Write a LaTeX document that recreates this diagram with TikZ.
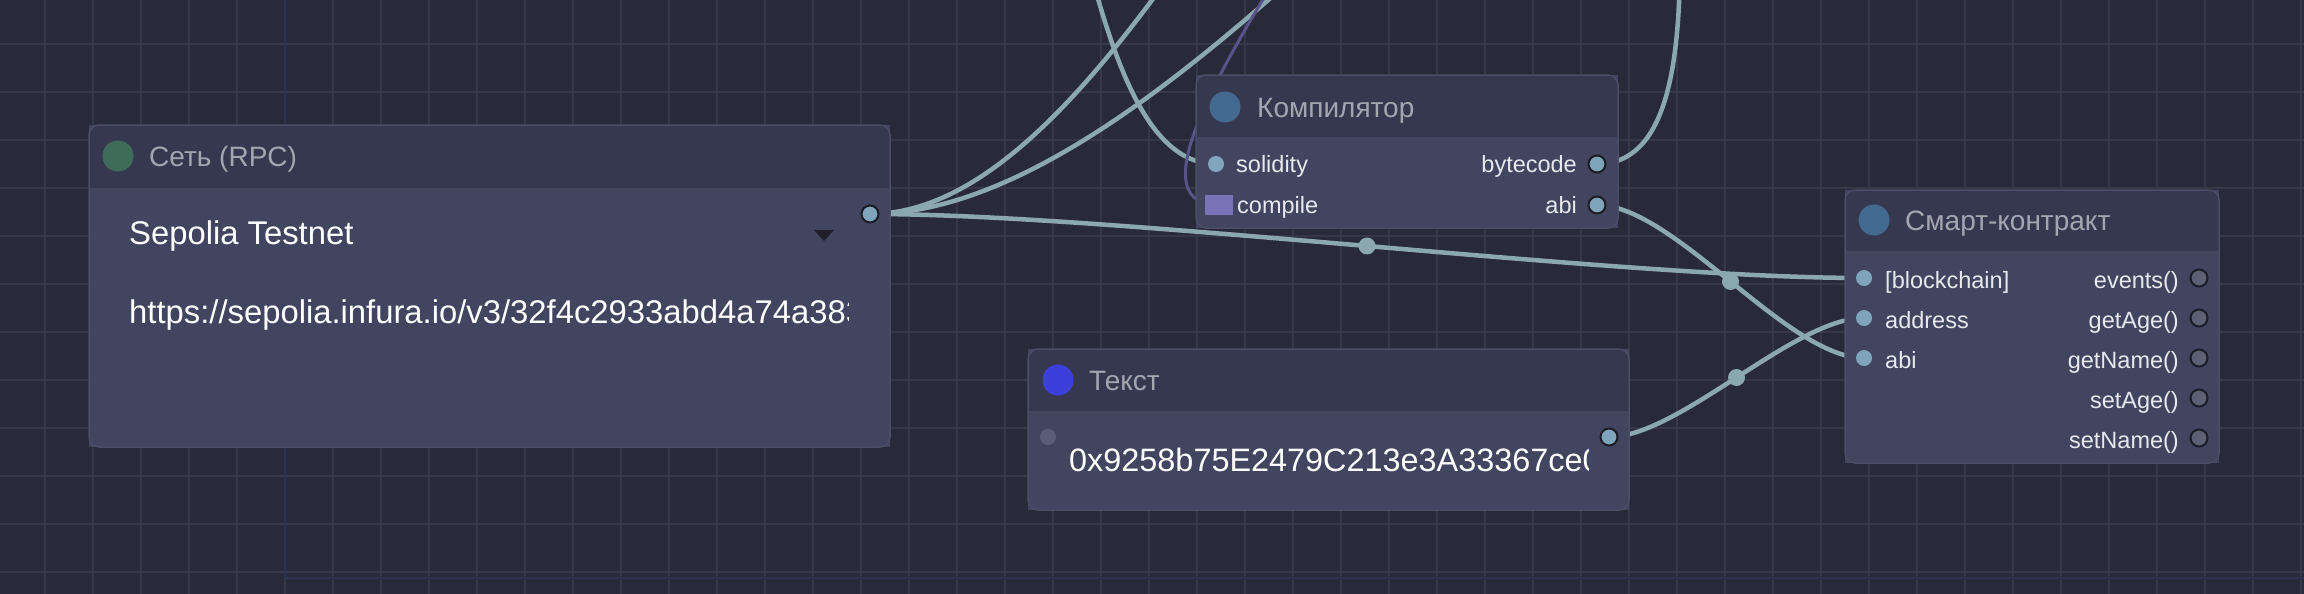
\documentclass[tikz,border=0pt]{standalone}
\usepackage{fontspec}
\setmainfont{Liberation Sans}
\pgfdeclarelayer{back}
\pgfdeclarelayer{wires}
\pgfsetlayers{back,wires,main}
\definecolor{bgc}{HTML}{282A3A}
\definecolor{gridc}{HTML}{363848}
\definecolor{bluec}{HTML}{2C3352}
\definecolor{headc}{HTML}{36384F}
\definecolor{bodyc}{HTML}{424560}
\definecolor{borderc}{HTML}{4B4E66}
\definecolor{titlec}{HTML}{A3A5B1}
\definecolor{labelc}{HTML}{E8E8EE}
\definecolor{linkc}{HTML}{8BA7B0}
\definecolor{purplec}{HTML}{58548A}
\definecolor{squarec}{HTML}{7A72B6}
\definecolor{portc}{HTML}{7EA5BB}
\definecolor{portoff}{HTML}{5E6075}
\definecolor{portdim}{HTML}{5A5D77}
\definecolor{portring}{HTML}{1B1C25}
\definecolor{greenc}{HTML}{3F6B5B}
\definecolor{steelc}{HTML}{436990}
\definecolor{bluedot}{HTML}{3D3FDA}
\definecolor{darktri}{HTML}{1E1F2B}
\begin{document}
\begin{tikzpicture}[x=1pt,y=-1pt,
  gridline/.style={gridc,line width=2},
  nodebox/.style={fill=bodyc,inner sep=0,outer sep=0,anchor=north west},
  hdot/.style={circle,inner sep=0,minimum size=31},
  inport/.style={circle,fill=portc,inner sep=0,minimum size=16},
  outport/.style={circle,fill=portc,draw=portring,line width=2,inner sep=0,minimum size=17},
  offport/.style={circle,fill=portoff,draw=portring,line width=2,inner sep=0,minimum size=17},
  titletext/.style={anchor=base west,inner sep=0,text=titlec,font=\fontsize{28}{32}\selectfont},
  plabelL/.style={anchor=base west,inner sep=0,text=labelc,font=\fontsize{23.5}{28}\selectfont},
  plabelR/.style={anchor=base east,inner sep=0,text=labelc,font=\fontsize{23.5}{28}\selectfont},
  widget/.style={anchor=base west,inner sep=0,text=white,font=\fontsize{32.8}{38}\selectfont},
  link/.style={linkc,line width=4.5,line cap=round},
  plink/.style={purplec,line width=3,line cap=round},
  middot/.style={circle,fill=linkc,inner sep=0,minimum size=17}
]
\useasboundingbox (0,0) rectangle (2304,594);
\begin{pgfonlayer}{back}
  \fill[bgc] (0,0) rectangle (2304,594);
  \foreach \i in {0,...,47} \draw[gridline] ({45+48*\i},0) -- ({45+48*\i},594);
  \foreach \j in {0,...,11} \draw[gridline] (0,{44+48*\j}) -- (2304,{44+48*\j});
  \draw[bluec,line width=2] (285,0) -- (285,578) -- (2304,578);
\end{pgfonlayer}

% ---------- node: Сеть (RPC)
\node[nodebox,minimum width=801,minimum height=322] (rpc) at (89,125) {};
\begin{scope}
  \clip[rounded corners=10] (89,125) rectangle (890,447);
  \fill[bodyc] (89,125) rectangle (890,447);
  \fill[headc] (89,125) rectangle (890,188);
\end{scope}
\draw[borderc,line width=1.5,rounded corners=10] (89,125) rectangle (890,447);
\node[hdot,fill=greenc] (rpcdot) at (118,156) {};
\node[titletext] (rpctitle) at (149,166) {Сеть (RPC)};
\node[widget] (rpcnet) at (129,244) {Sepolia Testnet};
\fill[darktri] (814,230) -- (834,230) -- (824,241) -- cycle;
\begin{scope}
  \clip (120,290) rectangle (848,345);
  \node[widget] (rpcurl) at (129,323) {https://sepolia.infura.io/v3/32f4c2933abd4a74a383};
\end{scope}
\node[outport] (rpcout) at (870,214) {};

% ---------- node: Компилятор
\node[nodebox,minimum width=422,minimum height=153] (cmp) at (1196,75) {};
\begin{scope}
  \clip[rounded corners=10] (1196,75) rectangle (1618,228);
  \fill[bodyc] (1196,75) rectangle (1618,228);
  \fill[headc] (1196,75) rectangle (1618,137);
\end{scope}
\draw[borderc,line width=1.5,rounded corners=10] (1196,75) rectangle (1618,228);
\node[hdot,fill=steelc] (cmpdot) at (1225,107) {};
\node[titletext] (cmptitle) at (1257,117) {Компилятор};
\node[inport] (cmpsol) at (1216,164) {};
\node[fill=squarec,inner sep=0,minimum width=28,minimum height=20] (cmpcomp) at (1219,205) {};
\node[plabelL] (lsol) at (1236,172) {solidity};
\node[plabelL] (lcomp) at (1237,213) {compile};
\node[outport] (cmpbyte) at (1597,164) {};
\node[outport] (cmpabi) at (1597,205) {};
\node[plabelR] (lbyte) at (1577,172) {bytecode};
\node[plabelR] (labi) at (1577,213) {abi};

% ---------- node: Текст
\node[nodebox,minimum width=601,minimum height=161] (txt) at (1028,349) {};
\begin{scope}
  \clip[rounded corners=10] (1028,349) rectangle (1629,510);
  \fill[bodyc] (1028,349) rectangle (1629,510);
  \fill[headc] (1028,349) rectangle (1629,411);
\end{scope}
\draw[borderc,line width=1.5,rounded corners=10] (1028,349) rectangle (1629,510);
\node[hdot,fill=bluedot] (txtdot) at (1058,380) {};
\node[titletext] (txttitle) at (1089,390) {Текст};
\node[circle,fill=portdim,inner sep=0,minimum size=16] (txtin) at (1048,437) {};
\begin{scope}
  \clip (1060,420) rectangle (1588,495);
  \node[widget,font=\fontsize{32.4}{38}\selectfont] (txtval) at (1069,471) {0x9258b75E2479C213e3A33367ce0};
\end{scope}
\node[outport] (txtout) at (1609,437) {};

% ---------- node: Смарт-контракт
\node[nodebox,minimum width=374,minimum height=273] (sc) at (1845,190) {};
\begin{scope}
  \clip[rounded corners=10] (1845,190) rectangle (2219,463);
  \fill[bodyc] (1845,190) rectangle (2219,463);
  \fill[headc] (1845,190) rectangle (2219,251);
\end{scope}
\draw[borderc,line width=1.5,rounded corners=10] (1845,190) rectangle (2219,463);
\node[hdot,fill=steelc] (scdot) at (1874,220) {};
\node[titletext] (sctitle) at (1905,230) {Смарт-контракт};
\node[inport] (scin1) at (1864,278) {};
\node[inport] (scin2) at (1864,318) {};
\node[inport] (scin3) at (1864,358) {};
\node[plabelL] (lbc) at (1885,288) {[blockchain]};
\node[plabelL] (laddr) at (1885,328) {address};
\node[plabelL] (lscabi) at (1885,368) {abi};
\node[offport] (scout1) at (2199,278) {};
\node[offport] (scout2) at (2199,318) {};
\node[offport] (scout3) at (2199,358) {};
\node[offport] (scout4) at (2199,398) {};
\node[offport] (scout5) at (2199,438) {};
\node[plabelR] (lev) at (2179,288) {events()};
\node[plabelR] (lga) at (2179,328) {getAge()};
\node[plabelR] (lgn) at (2179,368) {getName()};
\node[plabelR] (lsa) at (2179,408) {setAge()};
\node[plabelR] (lsn) at (2179,448) {setName()};

% ---------- off-picture ends
\coordinate (dstA) at (1700,-600);
\coordinate (dstB) at (2080,-600);
\coordinate (srcSol) at (920,-400);
\coordinate (srcComp) at (1460,-450);
\coordinate (dstByte) at (1750,-600);

% ---------- links
\begin{pgfonlayer}{wires}
  \draw[link] (rpcout.center) .. controls +(291,0) and +(-291,0) .. (dstA);
  \draw[link] (rpcout.center) .. controls +(365,0) and +(-365,0) .. (dstB);
  \draw[link] (rpcout.center) .. controls +(249,0) and +(-249,0) .. (scin1.center) node[pos=0.5,middot] (m1) {};
  \draw[link] (srcSol) .. controls +(160,0) and +(-160,0) .. (cmpsol.center);
  \draw[plink] (srcComp) .. controls +(178,0) and +(-178,0) .. (cmpcomp.center);
  \draw[link] (cmpbyte.center) .. controls +(195,0) and +(-195,0) .. (dstByte);
  \draw[link] (cmpabi.center) .. controls +(77,0) and +(-77,0) .. (scin3.center) node[pos=0.5,middot] (m2) {};
  \draw[link] (txtout.center) .. controls +(70,0) and +(-70,0) .. (scin2.center) node[pos=0.5,middot] (m3) {};
\end{pgfonlayer}
\end{tikzpicture}
\end{document}
